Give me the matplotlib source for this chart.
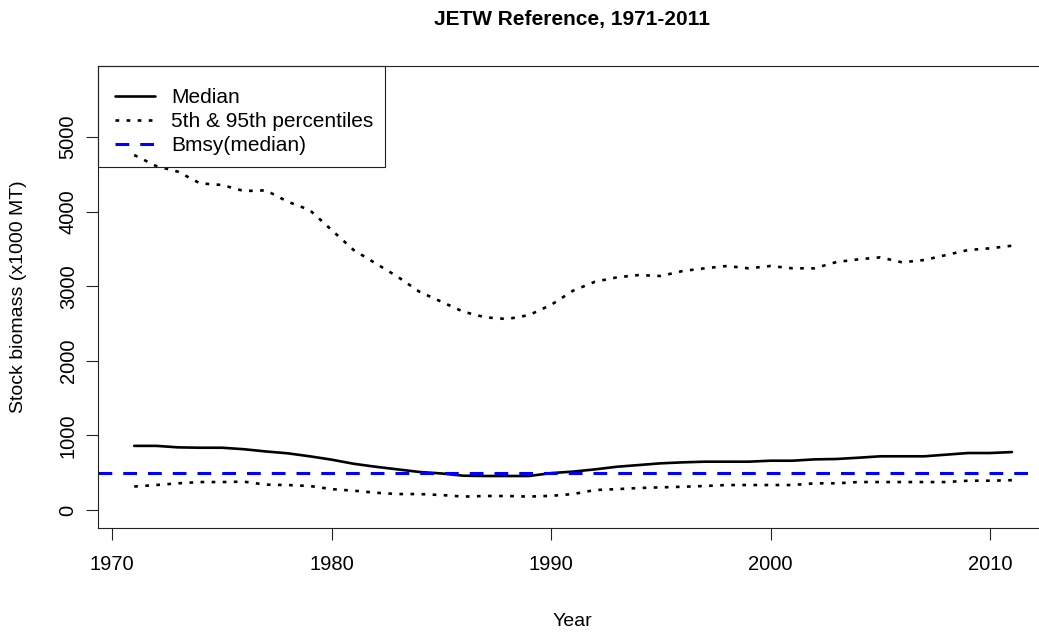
import numpy as np
import matplotlib
matplotlib.use("Agg")
import matplotlib.pyplot as plt
from matplotlib.patches import Rectangle

plt.rcParams['font.family'] = ['Liberation Sans', 'DejaVu Sans']

years = np.arange(1971, 2012)

median = [860, 860, 840, 835, 835, 815, 785, 760, 720, 675,
          620, 580, 545, 510, 490, 460, 456, 456, 456, 495,
          515, 545, 580, 603, 626, 639, 648, 648, 648, 661,
          661, 679, 684, 701, 720, 720, 720, 742, 764, 764, 777]

p05 = [315, 335, 358, 375, 375, 380, 340, 335, 322, 280,
       259, 232, 214, 214, 201, 180, 188, 188, 180, 190,
       214, 268, 280, 295, 304, 312, 322, 335, 335, 335,
       335, 358, 358, 375, 375, 375, 375, 375, 393, 393, 400]

p95 = [4759, 4611, 4535, 4379, 4357, 4276, 4285, 4133, 4021, 3753,
       3485, 3307, 3128, 2926, 2792, 2658, 2583, 2560, 2614, 2750,
       2940, 3060, 3119, 3150, 3137, 3204, 3240, 3271, 3240, 3271,
       3240, 3240, 3324, 3360, 3387, 3320, 3351, 3418, 3485, 3508, 3543]

bmsy = 500

title = "JETW Reference, 1971-2011"
xlabel = "Year"
ylabel = "Stock biomass (x1000 MT)"
xticks = [1970, 1980, 1990, 2000, 2010]
yticks = [0, 1000, 2000, 3000, 4000, 5000]

W, H = 1039, 634
fig = plt.figure(figsize=(W/100, H/100), dpi=100)
# plot region runs a little past the right edge, like the original
ax = fig.add_axes([98/W, (H-528)/H, (1047-98)/W, (528-66)/H])

lw = 1.9
ax.plot(years, median, color='black', lw=lw, solid_capstyle='round',
        label='Median')
ax.plot(years, p05, color='black', lw=lw, dashes=(1.4, 2.8),
        label='5th & 95th percentiles')
ax.plot(years, p95, color='black', lw=lw, dashes=(1.4, 2.8))
ax.axhline(bmsy, color='#0000ff', lw=2.2, dashes=(4.5, 3.6),
           label='Bmsy(median)')

ax.set_xlim(1969.35, 2012.6)
ax.set_ylim(-241, 5952)
ax.set_xticks(xticks)
ax.set_yticks(yticks)
ax.set_yticklabels([str(v) for v in yticks], rotation=90, va='center')
ax.tick_params(length=8.6, width=0.8, labelsize=14.5, color='#222222')
ax.tick_params(axis='x', pad=11)
ax.tick_params(axis='y', pad=6)
for s in ax.spines.values():
    s.set_linewidth(0.8)
    s.set_color('#222222')

ax.set_xlabel(xlabel, fontsize=14)
ax.xaxis.set_label_coords(0.5, (528-622)/(528-66))
ax.xaxis.label.set_va('center')
ax.set_ylabel(ylabel, fontsize=14)
ax.yaxis.set_label_coords((19-98)/(1047-98), 0.5)
ax.yaxis.label.set_va('center')

fig.text(572/W, 1-20/H, title, ha='center', va='center',
         fontsize=15, fontweight='bold')

# legend without its own frame; R-style open box drawn separately
leg = ax.legend(loc='upper left', bbox_to_anchor=(115/W, 1-88/H),
                bbox_transform=fig.transFigure, borderaxespad=0,
                borderpad=0, fontsize=15, frameon=False,
                handlelength=1.9, handletextpad=0.8, labelspacing=0.25)
fig.patches.append(Rectangle((98/W, 1-167/H), (385-98)/W, (167-66)/H,
                             transform=fig.transFigure, fill=False,
                             edgecolor='#222222', lw=0.8, zorder=5))

fig.savefig("out.png", dpi=100)
